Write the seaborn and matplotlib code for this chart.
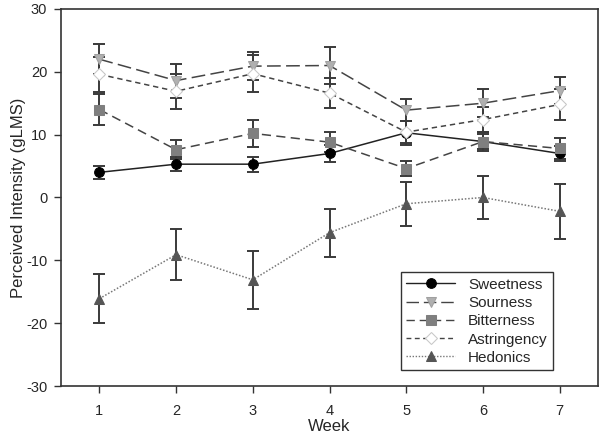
import matplotlib
matplotlib.use("Agg")
import matplotlib.pyplot as plt
import seaborn as sns
import pandas as pd
import numpy as np

weeks = [1, 2, 3, 4, 5, 6, 7]
series_names = ["Sweetness", "Sourness", "Bitterness", "Astringency", "Hedonics"]

sweetness = [4.0, 5.3, 5.3, 7.0, 10.3, 8.9, 7.0]
sweetness_err = [1.0, 1.1, 1.2, 1.3, 1.9, 1.5, 1.2]
sourness = [22.0, 18.6, 20.9, 21.0, 13.9, 15.0, 17.0]
sourness_err = [2.4, 2.7, 2.2, 3.0, 1.7, 2.2, 2.1]
bitterness = [14.0, 7.6, 10.2, 8.8, 4.6, 8.9, 7.8]
bitterness_err = [2.4, 1.5, 2.2, 1.6, 1.2, 1.2, 1.6]
astringency = [19.6, 16.9, 19.7, 16.6, 10.4, 12.4, 14.8]
astringency_err = [2.8, 2.8, 2.9, 2.4, 1.8, 2.0, 2.4]
hedonics = [-16.1, -9.1, -13.1, -5.6, -1.0, 0.0, -2.2]
hedonics_err = [3.9, 4.1, 4.6, 3.8, 3.5, 3.4, 4.4]

x_ticks = [1, 2, 3, 4, 5, 6, 7]
y_ticks = [-30, -20, -10, 0, 10, 20, 30]

values = [sweetness, sourness, bitterness, astringency, hedonics]
errors = [sweetness_err, sourness_err, bitterness_err, astringency_err, hedonics_err]

styles = {
    "Sweetness":   dict(marker="o", mfc="black", mec="black", color="#222222", dashes=None, ms=7),
    "Sourness":    dict(marker="v", mfc="#b0b0b0", mec="#a0a0a0", color="#444444", dashes=(9, 3.5), ms=7.5),
    "Bitterness":  dict(marker="s", mfc="#7f7f7f", mec="#7f7f7f", color="#444444", dashes=(6, 3.5), ms=6.5),
    "Astringency": dict(marker="D", mfc="white", mec="#c8c8c8", color="#444444", dashes=(3.5, 2.5), ms=6.5),
    "Hedonics":    dict(marker="^", mfc="#555555", mec="#555555", color="#777777", dashes=(1, 1.2), ms=7.5),
}

sns.set_style("white")
plt.rcParams["font.family"] = ["Liberation Sans", "DejaVu Sans"]

fig = plt.figure(figsize=(6.0, 4.41), dpi=100)
ax = fig.add_axes([0.1017, 0.1247, 0.895, 0.855])

rows = []
for name, vals in zip(series_names, values):
    for w, v in zip(weeks, vals):
        rows.append({"Week": w, "Value": v, "Series": name})
df = pd.DataFrame(rows)

for name, vals, errs in zip(series_names, values, errors):
    ax.errorbar(weeks, vals, yerr=errs, fmt="none", ecolor="#3a3a3a",
                elinewidth=1.4, capsize=4, capthick=1.4, zorder=2)

handles = []
for name in series_names:
    st = styles[name]
    sub = df[df["Series"] == name]
    sns.lineplot(data=sub, x="Week", y="Value", ax=ax, color=st["color"],
                 linewidth=1.1, zorder=3, legend=False, errorbar=None)
    line = ax.get_lines()[-1]
    if st["dashes"] is not None:
        line.set_dashes(st["dashes"])
    line.set_marker(st["marker"])
    line.set_markerfacecolor(st["mfc"])
    line.set_markeredgecolor(st["mec"])
    line.set_markersize(st["ms"])
    line.set_label(name)
    handles.append(line)

ax.set_xlim(0.5, 7.5)
ax.set_ylim(-30, 30)
ax.set_xticks(x_ticks)
ax.set_yticks(y_ticks)
ax.set_xticklabels([str(t) for t in x_ticks], fontsize=10.5)
ax.set_yticklabels([str(t) for t in y_ticks], fontsize=10.5)
ax.tick_params(axis="both", direction="out", length=5, width=1, color="#333333",
               bottom=True, left=True, top=False, right=False)
ax.tick_params(axis="x", pad=8)
ax.tick_params(axis="y", pad=5)
ax.set_xlabel("Week", fontsize=12)
ax.set_ylabel("Perceived Intensity (gLMS)", fontsize=12)
ax.yaxis.set_label_coords(-0.066, 0.5)
ax.xaxis.set_label_coords(0.5, -0.088)
for sp in ax.spines.values():
    sp.set_visible(True)
    sp.set_color("#333333")
    sp.set_linewidth(1.2)

leg = ax.legend(handles=handles, labels=series_names, loc="lower left",
                bbox_to_anchor=(0.633, 0.042), fontsize=11, frameon=True,
                fancybox=False, framealpha=1, edgecolor="#333333",
                handlelength=3.2, numpoints=1, borderpad=0.35, labelspacing=0.28,
                handletextpad=0.85, borderaxespad=0)
leg.get_frame().set_linewidth(1.0)
for lh in leg.get_lines():
    lh.set_linewidth(1.0)

fig.savefig("out.png", dpi=100)
